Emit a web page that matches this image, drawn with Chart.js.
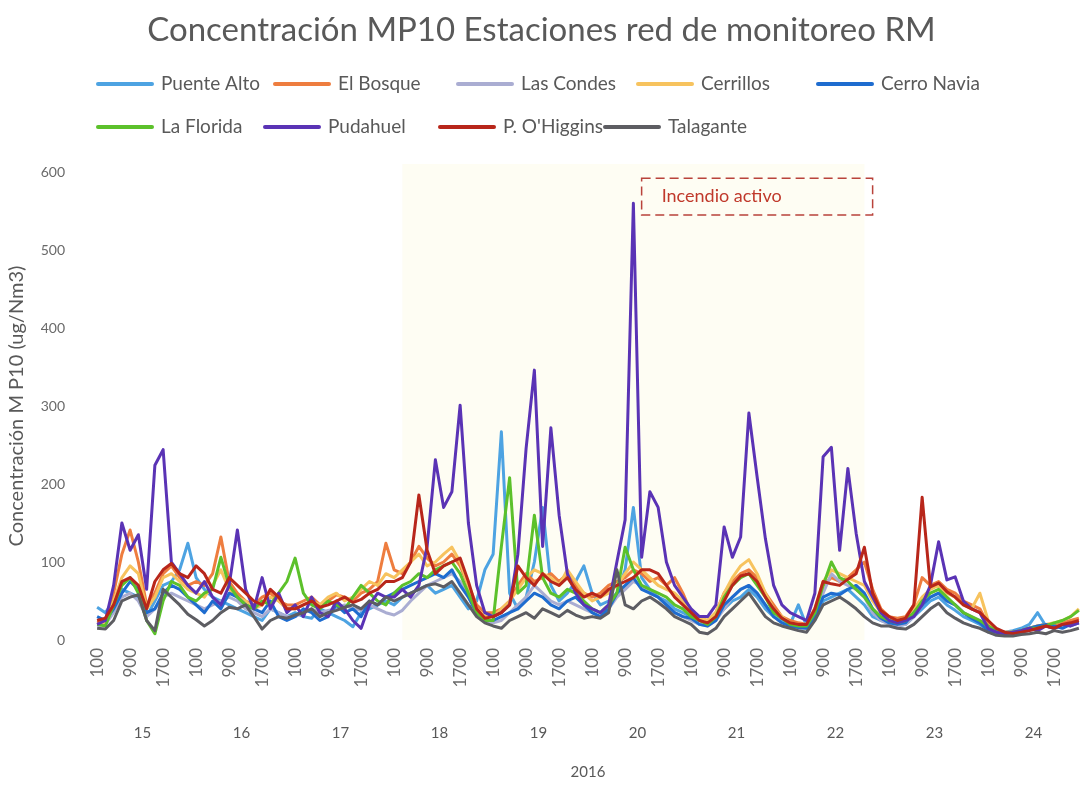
<!DOCTYPE html>
<html>
<head>
<meta charset="utf-8">
<title>Concentración MP10 Estaciones red de monitoreo RM</title>
<script src="https://cdn.jsdelivr.net/npm/chart.js@4.4.1/dist/chart.umd.min.js"></script>
<style>
    html, body { margin: 0; padding: 0; background: #ffffff; }
    #chartBox { width: 1086px; height: 786px; }
</style>
</head>
<body>
<div id="chartBox"><canvas id="mp10Chart"></canvas></div>
<script>
// days of July 2016 and the hours sampled every 2 h in each day
const days = ['15', '16', '17', '18', '19', '20', '21', '22', '23', '24'];
const hours = ['100', '300', '500', '700', '900', '1100', '1300', '1500', '1700', '1900', '2100', '2300'];

// MP10 (ug/Nm3), one row per day
const puenteAlto = [
    42, 35, 50, 65, 60, 55, 30, 50, 70, 75, 90, 124,
    80, 65, 55, 50, 45, 40, 35, 30, 25, 40, 35, 30,
    35, 30, 28, 40, 35, 30, 25, 17, 35, 40, 45, 50,
    45, 55, 60, 65, 70, 60, 65, 70, 55, 40, 50, 90,
    110, 267, 60, 40, 55, 100, 170, 70, 50, 60, 75, 95,
    60, 45, 50, 60, 90, 170, 80, 65, 55, 50, 40, 35,
    30, 25, 22, 30, 40, 50, 55, 65, 55, 40, 30, 25,
    20, 45, 18, 30, 50, 55, 60, 65, 55, 45, 30, 25,
    22, 18, 20, 30, 40, 50, 55, 45, 38, 30, 25, 20,
    12, 8, 10, 12, 15, 20, 35, 18, 15, 20, 18, 22
];
const elBosque = [
    22, 25, 60, 110, 141, 100, 45, 60, 85, 95, 80, 70,
    75, 70, 85, 132, 75, 60, 50, 45, 55, 60, 50, 45,
    45, 50, 55, 45, 50, 58, 55, 50, 60, 65, 75, 124,
    90, 85, 100, 120, 105, 95, 100, 110, 95, 70, 45, 35,
    35, 40, 50, 70, 85, 75, 80, 85, 75, 85, 70, 60,
    55, 60, 70, 75, 80, 90, 85, 75, 80, 70, 80, 60,
    35, 28, 25, 35, 60, 75, 85, 90, 80, 60, 45, 30,
    25, 22, 20, 40, 70, 80, 75, 80, 90, 100, 65, 40,
    30, 28, 30, 45, 80, 70, 75, 65, 60, 50, 45, 40,
    20, 12, 10, 10, 12, 15, 18, 20, 18, 22, 25, 28
];
const lasCondes = [
    18, 20, 35, 55, 60, 50, 30, 40, 55, 60, 55, 50,
    45, 40, 45, 50, 55, 50, 40, 35, 30, 40, 35, 30,
    30, 35, 40, 35, 38, 40, 45, 40, 38, 45, 40, 35,
    32, 38, 50, 60, 70, 75, 80, 85, 75, 55, 35, 25,
    22, 25, 35, 45, 55, 70, 60, 50, 45, 50, 45, 40,
    35, 30, 40, 55, 65, 75, 70, 60, 55, 45, 35, 30,
    25, 20, 18, 25, 40, 55, 65, 70, 60, 45, 30, 22,
    18, 15, 15, 30, 60, 85, 75, 70, 65, 55, 35, 25,
    20, 18, 20, 30, 45, 55, 60, 50, 45, 35, 30, 25,
    10, 8, 6, 8, 10, 12, 15, 18, 15, 18, 20, 22
];
const cerrillos = [
    20, 22, 50, 80, 95, 85, 40, 55, 80, 85, 75, 65,
    60, 55, 70, 90, 65, 55, 50, 40, 45, 55, 50, 40,
    40, 45, 50, 45, 55, 60, 50, 55, 65, 75, 70, 85,
    80, 90, 100, 110, 95, 100, 110, 119, 100, 70, 40, 30,
    30, 40, 50, 65, 80, 90, 85, 80, 70, 90, 75, 60,
    50, 55, 60, 70, 85, 100, 90, 80, 70, 65, 60, 50,
    35, 28, 25, 35, 60, 80, 95, 103, 85, 60, 40, 30,
    22, 20, 20, 40, 75, 90, 85, 80, 75, 70, 50, 35,
    28, 25, 28, 40, 55, 65, 70, 60, 55, 45, 40, 60,
    25, 12, 10, 10, 12, 15, 18, 20, 22, 25, 30, 40
];
const cerroNavia = [
    30, 25, 40, 60, 75, 65, 35, 40, 60, 70, 65, 55,
    45, 35, 50, 40, 60, 55, 45, 40, 35, 50, 30, 25,
    30, 40, 35, 25, 30, 45, 35, 40, 30, 50, 45, 55,
    60, 65, 70, 75, 80, 85, 80, 90, 70, 55, 35, 25,
    25, 30, 35, 40, 50, 60, 55, 45, 40, 50, 55, 45,
    35, 30, 40, 60, 70, 80, 65, 60, 55, 45, 35, 30,
    28, 20, 18, 25, 45, 55, 65, 70, 60, 45, 30, 22,
    18, 16, 15, 30, 55, 60, 58, 65, 70, 60, 40, 28,
    22, 20, 22, 35, 45, 55, 60, 50, 45, 35, 28, 22,
    12, 10, 8, 10, 12, 15, 18, 20, 18, 15, 20, 22
];
const laFlorida = [
    20, 18, 45, 70, 80, 60, 25, 8, 50, 75, 70, 55,
    50, 60, 65, 106, 70, 55, 45, 40, 50, 45, 60, 75,
    105, 60, 45, 40, 50, 45, 40, 55, 70, 60, 50, 45,
    60, 70, 75, 85, 80, 90, 95, 100, 85, 60, 35, 25,
    25, 120, 208, 60, 70, 160, 80, 60, 55, 65, 60, 50,
    40, 35, 45, 60, 119, 90, 70, 65, 60, 55, 45, 40,
    30, 25, 20, 30, 55, 70, 80, 85, 70, 55, 35, 28,
    20, 18, 18, 35, 70, 100, 80, 75, 65, 55, 40, 30,
    25, 22, 25, 35, 50, 60, 65, 55, 45, 35, 30, 25,
    18, 12, 8, 10, 12, 15, 15, 18, 22, 25, 30, 38
];
const pudahuel = [
    20, 25, 70, 150, 115, 135, 65, 224, 244, 100, 85, 70,
    60, 75, 55, 45, 70, 141, 65, 40, 80, 40, 60, 35,
    45, 30, 55, 35, 30, 50, 40, 25, 15, 45, 60, 55,
    55, 65, 55, 70, 120, 231, 170, 190, 301, 150, 70, 35,
    30, 35, 45, 110, 246, 346, 120, 272, 160, 85, 60, 45,
    40, 35, 45, 100, 154, 560, 106, 190, 170, 100, 70, 55,
    40, 30, 30, 45, 145, 106, 132, 291, 209, 130, 70, 45,
    35, 30, 25, 60, 235, 247, 115, 220, 137, 75, 55, 35,
    25, 22, 25, 30, 45, 70, 126, 77, 81, 50, 40, 35,
    15, 10, 8, 10, 12, 15, 12, 18, 15, 20, 18, 22
];
const pOHiggins = [
    25, 28, 45, 75, 80, 70, 40, 75, 90, 98, 85, 80,
    95, 85, 65, 60, 80, 70, 60, 50, 45, 65, 55, 40,
    40, 45, 50, 42, 45, 50, 55, 48, 52, 60, 65, 75,
    75, 80, 100, 186, 115, 85, 95, 100, 105, 75, 40, 28,
    30, 35, 45, 95, 80, 70, 85, 75, 70, 80, 65, 55,
    60, 55, 65, 70, 75, 80, 90, 90, 85, 70, 55, 45,
    35, 25, 22, 30, 50, 70, 82, 85, 75, 55, 40, 28,
    22, 20, 20, 40, 75, 72, 70, 78, 85, 119, 60, 38,
    30, 25, 28, 45, 183, 68, 73, 62, 55, 45, 40, 35,
    25, 15, 10, 8, 10, 12, 15, 18, 15, 20, 22, 25
];
const talagante = [
    15, 14, 25, 50, 55, 58, 25, 12, 65, 55, 45, 33,
    26, 18, 25, 35, 42, 40, 45, 30, 14, 25, 30, 28,
    32, 35, 40, 30, 35, 38, 42, 45, 40, 50, 45, 55,
    50, 55, 60, 65, 70, 72, 68, 75, 60, 45, 30, 22,
    18, 15, 25, 30, 35, 28, 40, 35, 30, 38, 32, 28,
    30, 28, 35, 90, 45, 40, 50, 55, 48, 40, 30, 25,
    20, 10, 8, 15, 30, 40, 50, 60, 45, 30, 22, 18,
    15, 12, 10, 25, 45, 50, 55, 48, 40, 30, 22, 18,
    18, 15, 14, 20, 30, 40, 47, 35, 28, 22, 18, 15,
    10, 6, 5, 5, 7, 8, 10, 8, 12, 10, 12, 15
];

const stations = ['Puente Alto', 'El Bosque', 'Las Condes', 'Cerrillos', 'Cerro Navia',
                  'La Florida', 'Pudahuel', "P. O'Higgins", 'Talagante'];
const series = [puenteAlto, elBosque, lasCondes, cerrillos, cerroNavia,
                laFlorida, pudahuel, pOHiggins, talagante];
const colors = ['#4DA3E2', '#EE7D3F', '#AAADD2', '#F7C35E', '#1E6CCF',
                '#5CC12B', '#5A33B5', '#B8261A', '#5D5D62'];

// one category per 2-hour sample
const timeLabels = [];
days.forEach(function (d) {
    hours.forEach(function (h) { timeLabels.push(h); });
});

Chart.defaults.font.family = 'Lato, "Open Sans", sans-serif';
Chart.defaults.color = '#595959';

// legend laid out in two rows like the spreadsheet one
const legendSlots = [[98, 84], [275, 84], [458, 84], [638, 84], [818, 84],
                     [98, 127], [265, 127], [440, 127], [605, 127]];

const stationLegend = {
    id: 'stationLegend',
    afterDraw: function (chart) {
        const ctx = chart.ctx;
        ctx.save();
        chart.data.datasets.forEach(function (ds, i) {
            const x = legendSlots[i][0];
            const y = legendSlots[i][1];
            ctx.strokeStyle = ds.borderColor;
            ctx.lineWidth = 4;
            ctx.lineCap = 'round';
            ctx.beginPath();
            ctx.moveTo(x, y);
            ctx.lineTo(x + 54, y);
            ctx.stroke();
            ctx.fillStyle = '#595959';
            ctx.font = '19px Lato, "Open Sans", sans-serif';
            ctx.textBaseline = 'middle';
            ctx.fillText(ds.label, x + 63, y);
        });
        ctx.restore();
    }
};

// faint cream patch behind the middle of the plot, as in the scanned page
const creamPatch = {
    id: 'creamPatch',
    beforeDatasetsDraw: function (chart) {
        const xs = chart.scales.x;
        const area = chart.chartArea;
        const ctx = chart.ctx;
        ctx.save();
        ctx.fillStyle = 'rgba(250, 248, 200, 0.22)';
        const left = xs.getPixelForValue(37);
        const right = xs.getPixelForValue(93);
        ctx.fillRect(left, area.top - 8, right - left, area.bottom - area.top + 8);
        ctx.restore();
    }
};

// dashed note over the fire period
const fireNote = {
    id: 'fireNote',
    afterDatasetsDraw: function (chart) {
        const xs = chart.scales.x;
        const ys = chart.scales.y;
        const left = xs.getPixelForValue(66);
        const right = xs.getPixelForValue(94);
        const top = ys.getPixelForValue(592);
        const bottom = ys.getPixelForValue(545);
        const ctx = chart.ctx;
        ctx.save();
        ctx.strokeStyle = '#B9433B';
        ctx.lineWidth = 1.5;
        ctx.setLineDash([9, 5]);
        ctx.strokeRect(left, top, right - left, bottom - top);
        ctx.setLineDash([]);
        ctx.fillStyle = '#C0392B';
        ctx.font = '18px Lato, "Open Sans", sans-serif';
        ctx.textBaseline = 'middle';
        ctx.fillText('Incendio activo', left + 20, (top + bottom) / 2);
        ctx.restore();
    }
};

const datasets = stations.map(function (name, i) {
    return {
        label: name,
        data: series[i],
        borderColor: colors[i],
        backgroundColor: colors[i],
        borderWidth: 3,
        pointRadius: 0,
        tension: 0,
        borderJoinStyle: 'round',
        order: stations.length - i
    };
});

function noSidePadding(scale) {
    scale.paddingLeft = 0;
    scale.paddingRight = 0;
}

new Chart(document.getElementById('mp10Chart'), {
    type: 'line',
    data: {
        labels: timeLabels,
        datasets: datasets
    },
    options: {
        responsive: true,
        maintainAspectRatio: false,
        animation: false,
        layout: { padding: { right: 3 } },
        plugins: {
            legend: { display: false },
            tooltip: { enabled: false },
            title: {
                display: true,
                text: 'Concentración MP10 Estaciones red de monitoreo RM',
                color: '#595959',
                font: { size: 33, weight: 'normal' },
                padding: { top: 11, bottom: 121.4 }
            }
        },
        scales: {
            x: {
                type: 'category',
                offset: true,
                grid: { display: false, drawTicks: false },
                border: { display: false },
                ticks: {
                    autoSkip: false,
                    minRotation: 90,
                    maxRotation: 90,
                    padding: 8,
                    color: '#6a6a6a',
                    font: { size: 17 },
                    callback: function (value, index) {
                        return index % 4 === 0 ? this.getLabelForValue(value) : '';
                    }
                },
                afterFit: function (scale) {
                    scale.height = 62;
                    noSidePadding(scale);
                }
            },
            xDay: {
                type: 'category',
                position: 'bottom',
                labels: days,
                offset: true,
                weight: 1,
                grid: { display: false, drawTicks: false },
                border: { display: false },
                ticks: { autoSkip: false, maxRotation: 0, padding: 22, font: { size: 15 } },
                title: {
                    display: true,
                    text: '2016',
                    font: { size: 15 },
                    padding: { top: 0, bottom: 5 }
                },
                afterFit: function (scale) {
                    scale.height = 84;
                    noSidePadding(scale);
                }
            },
            y: {
                min: 0,
                max: 600,
                grid: { display: false, drawTicks: false },
                border: { display: false },
                ticks: { stepSize: 100, padding: 28, color: '#6a6a6a', font: { size: 14 } },
                title: {
                    display: true,
                    text: 'Concentración M P10 (ug/Nm3)',
                    font: { size: 20 },
                    padding: { top: 5, bottom: 0 }
                },
                afterFit: function (scale) { scale.width = 93; }
            }
        }
    },
    plugins: [creamPatch, stationLegend, fireNote]
});
</script>
</body>
</html>
